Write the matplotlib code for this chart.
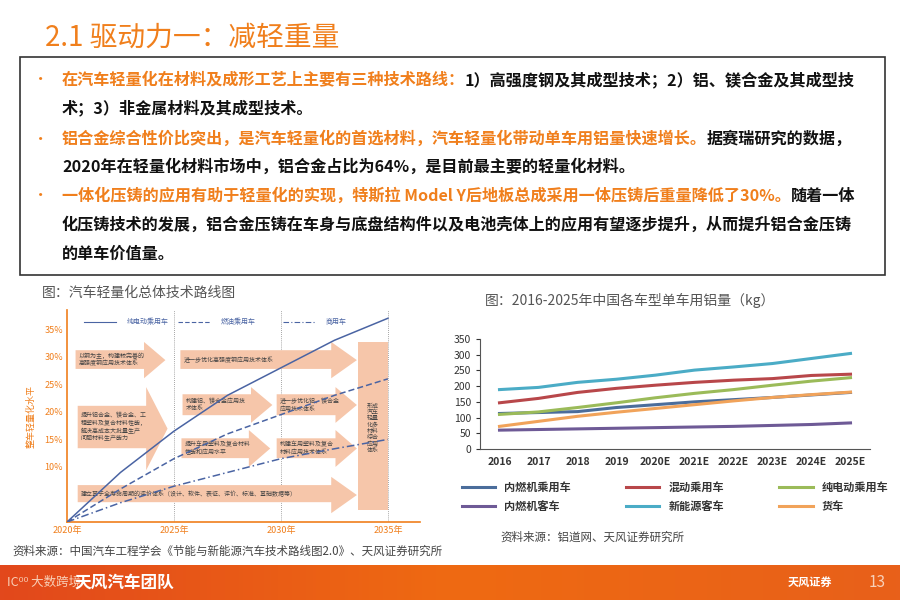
"""Slide: 2.1 驱动力一：减轻重量 (two charts + text box)."""
import matplotlib
matplotlib.use('Agg')
import matplotlib.pyplot as plt
from matplotlib.patches import Rectangle
import numpy as np

plt.rcParams['font.family'] = ['Noto Sans CJK SC', 'DejaVu Sans']

ORANGE = '#f07f1c'
BLUE_LINE = '#4a64a3'

# ---- right chart data: 单车用铝量 (kg)
years = ['2016', '2017', '2018', '2019', '2020E', '2021E', '2022E', '2023E', '2024E', '2025E']
ice_car = [113, 116, 119, 132, 141, 150, 157, 164, 172, 180]
hybrid_car = [147, 161, 180, 193, 203, 212, 219, 224, 234, 238]
ev_car = [110, 118, 132, 147, 163, 177, 189, 203, 216, 227]
ice_bus = [60, 62, 64, 66, 68, 70, 72, 75, 78, 83]
ne_bus = [189, 196, 212, 222, 235, 251, 261, 272, 288, 304]
truck = [72, 88, 104, 117, 129, 141, 153, 164, 173, 181]
series_names = ['内燃机乘用车', '混动乘用车', '纯电动乘用车', '内燃机客车', '新能源客车', '货车']
series_colors = ['#4b6d9b', '#b8474a', '#9bbb59', '#6e5a96', '#4bacc6', '#f1a35a']

# ---- left chart data: 轻量化水平 (%)
route_years = [2020, 2022.5, 2025, 2027.5, 2030, 2032.5, 2035]
route_ev = [0, 9, 16.5, 23, 28, 33, 37]
route_fuel = [0, 6, 11.5, 16, 19.5, 23, 26]
route_com = [0, 3.5, 6.5, 9, 11.5, 13.3, 15]
route_names = ['纯电动乘用车', '燃油乘用车', '商用车']

fig = plt.figure(figsize=(9, 6), dpi=100)
W, H = 900, 600


def px(x, y):
    return x / W, 1 - y / H


def rich_line(x, y, pieces, size=12.3):
    """pieces: list of (text, color); drawn one after another."""
    r = fig.canvas.get_renderer()
    cx = x
    for txt, col in pieces:
        t = fig.text(*px(cx, y), txt, color=col, fontsize=size, fontweight='bold',
                     va='center', ha='left')
        bb = t.get_window_extent(renderer=r)
        cx += bb.width


# title
fig.text(*px(45, 38), '2.1 驱动力一：减轻重量', color=ORANGE, fontsize=20,
         fontweight='medium', va='center')

# text box
fig.patches.append(Rectangle(px(20, 275), 865 / W, 218 / H, transform=fig.transFigure,
                             fill=False, edgecolor='#333333', lw=1.2))
K = '#111111'
lines = [
    (80, True, [('在汽车轻量化在材料及成形工艺上主要有三种技术路线：', ORANGE),
                ('1）高强度钢及其成型技术；2）铝、镁合金及其成型技', K)]),
    (108, False, [('术；3）非金属材料及其成型技术。', K)]),
    (139, True, [('铝合金综合性价比突出，是汽车轻量化的首选材料，汽车轻量化带动单车用铝量快速增长。', ORANGE),
                 ('据赛瑞研究的数据，', K)]),
    (167, False, [('2020年在轻量化材料市场中，铝合金占比为64%，是目前最主要的轻量化材料。', K)]),
    (196, True, [('一体化压铸的应用有助于轻量化的实现，特斯拉 Model Y后地板总成采用一体压铸后重量降低了30%。', ORANGE),
                 ('随着一体', K)]),
    (225, False, [('化压铸技术的发展，铝合金压铸在车身与底盘结构件以及电池壳体上的应用有望逐步提升，从而提升铝合金压铸', K)]),
    (254, False, [('的单车价值量。', K)]),
]
for y, bullet, pieces in lines:
    if bullet:
        fig.text(*px(33, y), '•', color=ORANGE, fontsize=11, va='center')
    rich_line(62, y, pieces, size=11.6)

# captions / sources
GRAY = '#555555'
fig.text(*px(42, 293), '图：汽车轻量化总体技术路线图', color=GRAY, fontsize=10, va='center')
fig.text(*px(485, 300), '图：2016-2025年中国各车型单车用铝量（kg）', color=GRAY, fontsize=10, va='center')
fig.text(*px(12, 551), '资料来源：中国汽车工程学会《节能与新能源汽车技术路线图2.0》、天风证券研究所',
         color='#444444', fontsize=8.3, va='center')
fig.text(*px(500, 537), '资料来源：铝道网、天风证券研究所', color='#444444', fontsize=8.3, va='center')

# footer bar
bar = fig.add_axes([0, 0, 1, 35 / H])
grad = np.linspace(0, 1, 256).reshape(1, -1)
bar.imshow(grad, aspect='auto', cmap=matplotlib.colors.LinearSegmentedColormap.from_list(
    'f', ['#e2481c', '#ef6a12', '#e8601a']), extent=[0, 1, 0, 1])
bar.set_axis_off()
bar.text(0.008, 0.5, 'IC⁰⁰ 大数跨境', color='#f8d0b8', fontsize=9, va='center')
bar.text(0.083, 0.5, '天风汽车团队', color='white', fontsize=12, fontweight='bold', va='center')
bar.text(0.875, 0.5, '天风证券', color='white', fontsize=8, fontweight='bold', va='center')
bar.text(0.975, 0.5, '13', color='#f8d0b8', fontsize=11, va='center', ha='center')

# ---- right chart
ax = fig.add_axes([480 / W, 1 - 449 / H, 390 / W, 110 / H])
x = np.arange(len(years))
all_series = [ice_car, hybrid_car, ev_car, ice_bus, ne_bus, truck]
for vals, name, col in zip(all_series, series_names, series_colors):
    ax.plot(x, vals, color=col, lw=2.2, label=name)
ax.set_xlim(-0.5, len(years) - 0.5)
ax.set_ylim(0, 350)
ax.set_yticks(range(0, 351, 50))
ax.set_xticks(x)
ax.set_xticklabels(years, fontsize=7.5, fontweight='bold', color='#333333')
ax.tick_params(axis='y', labelsize=7.5, colors='#333333', length=3)
ax.tick_params(axis='x', length=0, pad=6)
for s in ['top', 'right']:
    ax.spines[s].set_visible(False)
for s in ['left', 'bottom']:
    ax.spines[s].set_color('#555555')
# legend fills column-wise, reorder so rows read as in the reference
order = [0, 3, 1, 4, 2, 5]
handles, labels = ax.get_legend_handles_labels()
leg = ax.legend([handles[i] for i in order], [labels[i] for i in order], ncol=3,
                loc='upper center', bbox_to_anchor=(0.5, -0.2), frameon=False,
                fontsize=8, handlelength=3, columnspacing=5, labelspacing=0.5)
for t in leg.get_texts():
    t.set_fontweight('bold')
    t.set_color('#333333')

# ---- left chart
SAL = '#f6c6aa'
la = fig.add_axes([67 / W, 1 - 522 / H, 353 / W, 212 / H])
la.set_xlim(2020, 2036.5)
la.set_ylim(0, 38.5)
arrows = [
    # x0, x1, body y0, body y1, head y0, head y1, text
    (2020.4, 2024.6, 27.8, 31.2, 26.1, 32.7, '以钢为主，构建较完善的\n高强度钢应用技术体系'),
    (2025.3, 2033.55, 27.8, 31.2, 26.1, 32.7, '进一步优化高强度钢应用技术体系'),
    (2020.5, 2024.7, 13.4, 21.1, 9.4, 24.5, '提升铝合金、镁合金、工\n程塑料及复合材料性能，\n解决高成本大批量生产\n问题材料生产能力'),
    (2025.4, 2029.6, 19.4, 23.2, 18.0, 24.5, '构建铝、镁合金应用技\n术体系'),
    (2029.8, 2033.55, 19.4, 23.2, 18.0, 24.5, '进一步优化铝、镁合金\n应用技术体系'),
    (2025.35, 2029.5, 11.6, 15.2, 10.0, 16.7, '提升车用塑料及复合材料\n性能和应用水平'),
    (2029.8, 2033.55, 11.6, 15.2, 10.0, 16.7, '构建车用塑料及复合\n材料应用技术体系'),
    (2020.5, 2033.55, 3.6, 6.7, 1.6, 8.2, '建立基于全寿命周期的评价体系（设计、软件、表征、评价、标准、基础数据等）'),
]
for x0, x1, b0, b1, h0, h1, txt in arrows:
    head_len = 1.0 if x1 - x0 < 6 else 1.2
    la.fill([x0, x1 - head_len, x1 - head_len, x1, x1 - head_len, x1 - head_len, x0],
            [b0, b0, h0, (h0 + h1) / 2, h1, b1, b1], color=SAL, lw=0, zorder=1)
    la.text(x0 + 0.15, (b0 + b1) / 2, txt, fontsize=4.3, color='#444444', va='center',
            ha='left', zorder=2, linespacing=1.3)
la.add_patch(Rectangle((2033.6, 2.2), 1.4, 30.5, color=SAL, lw=0, zorder=1))
la.text(2034.3, 17, '形成\n汽车\n轻量\n化多\n材料\n综合\n应用\n体系', fontsize=4.3,
        color='#444444', ha='center', va='center', zorder=2)
for xv in [2025, 2030, 2035]:
    la.axvline(xv, color='#888888', lw=0.6, ls=(0, (1, 1.5)), zorder=0)
styles = ['-', (0, (4, 2)), (0, (5, 2, 1, 2))]
for vals, st in zip([route_ev, route_fuel, route_com], styles):
    la.plot(route_years, vals, color=BLUE_LINE, lw=1.1, ls=st, zorder=3)
leg_x = [2020.8, 2025.2, 2030.1]
for lx, st, name in zip(leg_x, styles, route_names):
    la.plot([lx, lx + 1.5], [36.4, 36.4], color=BLUE_LINE, lw=0.8, ls=st)
    la.text(lx + 2.0, 36.4, name, fontsize=5, color=BLUE_LINE, va='center', ha='left')
la.set_yticks([10, 15, 20, 25, 30, 35])
la.set_yticklabels(['10%', '15%', '20%', '25%', '30%', '35%'])
la.set_xticks([2020, 2025, 2030, 2035])
la.set_xticklabels(['2020年', '2025年', '2030年', '2035年'])
la.tick_params(colors=ORANGE, labelsize=6.5, length=0, pad=3)
for s in ['top', 'right']:
    la.spines[s].set_visible(False)
for s in ['left', 'bottom']:
    la.spines[s].set_color(ORANGE)
    la.spines[s].set_linewidth(1.2)
la.set_ylabel('整车轻量化水平', color=ORANGE, fontsize=6.5, labelpad=6)
la.set_facecolor('none')

fig.savefig('out.png', dpi=100)
